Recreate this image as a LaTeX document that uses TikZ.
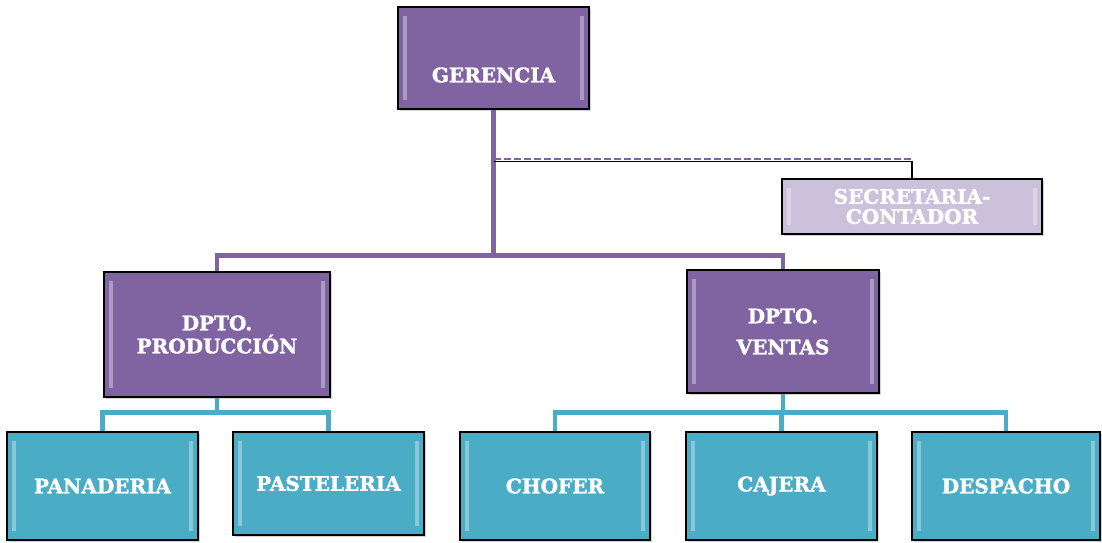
\documentclass[tikz,border=0pt]{standalone}
\usepackage{fontspec}
\setmainfont{DejaVu Serif}[BoldFeatures={FakeBold=1.6}]
\usepackage{xcolor}
\usetikzlibrary{positioning,calc,shadows}
\definecolor{orgPurple}{HTML}{8064A2}
\definecolor{orgLilac}{HTML}{CCC1DA}
\definecolor{orgTeal}{HTML}{4BACC6}

\tikzset{
  boxfont/.style={text=white,font=\fontsize{20}{23}\selectfont\bfseries},
  box/.style={draw=black,line width=1.3pt,inner sep=0pt,align=center,boxfont,
    drop shadow={opacity=.35,shadow xshift=2pt,shadow yshift=-2pt},
    path picture={
      \fill[white,opacity=.35] ([xshift=5pt,yshift=-9pt]path picture bounding box.north west)
        rectangle ([xshift=9pt,yshift=9pt]path picture bounding box.south west);
      \fill[white,opacity=.35] ([xshift=-5pt,yshift=-9pt]path picture bounding box.north east)
        rectangle ([xshift=-9pt,yshift=9pt]path picture bounding box.south east);
    }},
  pbox/.style={box,fill=orgPurple},
  lbox/.style={box,fill=orgLilac},
  tbox/.style={box,fill=orgTeal},
  pline/.style={draw=orgPurple,line width=4.5pt},
  tline/.style={draw=orgTeal,line width=4.5pt},
}

\begin{document}
\begin{tikzpicture}[x=1pt,y=-1pt]
\useasboundingbox (0,0) rectangle (1102,542);
% top level
\node[pbox,minimum width=191pt,minimum height=102pt] (ger) at (493.5,58) {};
\node[boxfont] (gertxt) at (493.5,75) {GERENCIA};
\node[lbox,minimum width=260pt,minimum height=55pt] (sec) at (912,206.5) {SECRETARIA-\\[-3pt]CONTADOR};
% departments
\node[pbox,minimum width=226pt,minimum height=125pt] (prod) at (217,334.5) {DPTO.\\PRODUCCIÓN};
\node[pbox,minimum width=192pt,minimum height=123pt] (ven) at (783,331.5) {DPTO.\\[8pt]VENTAS};
% sections
\node[tbox,minimum width=191pt,minimum height=108pt] (pan) at (102.5,486) {PANADERIA};
\node[tbox,minimum width=191pt,minimum height=103pt] (pas) at (328.5,483.5) {PASTELERIA};
\node[tbox,minimum width=190pt,minimum height=108pt] (cho) at (555,486) {CHOFER};
\node[tbox,minimum width=191pt,minimum height=108pt] (caj) at (781.5,486) {CAJERA};
\node[tbox,minimum width=188pt,minimum height=108pt] (des) at (1006,486) {DESPACHO};
% purple connectors
\draw[pline] (ger.south) -- ++(0,146) coordinate (hub) -| (prod.north);
\draw[pline] (hub) -| (ven.north);
% staff line to secretaria
\draw[black,line width=1.5pt] (ger.south) ++(0,52) -| (sec.north);
\draw[orgPurple,line width=2pt,dash pattern=on 7pt off 3pt] (ger.south) ++(0,49.5) coordinate (tap) -- (tap -| sec.north);
% teal connectors
\draw[tline] (prod.south) -- ++(0,15) coordinate (ph) -| (pan.north);
\draw[tline] (ph) -| (pas.north);
\draw[tline] (ven.south) -- ++(0,19) coordinate (vh) -| (cho.north);
\draw[tline] (vh) -| (caj.north);
\draw[tline] (vh) -| (des.north);
\end{tikzpicture}
\end{document}
